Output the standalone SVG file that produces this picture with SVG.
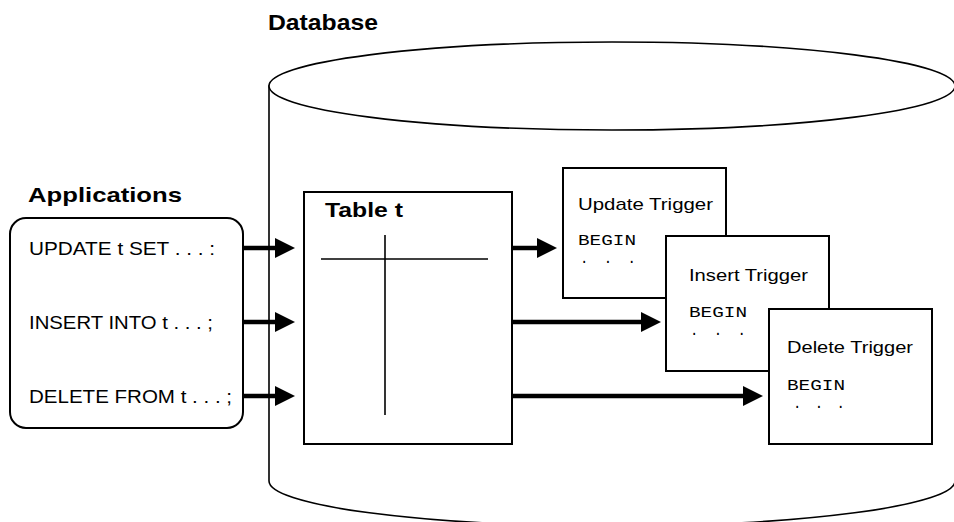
<svg xmlns="http://www.w3.org/2000/svg" width="954" height="522" viewBox="0 0 954 522">
<defs>
<marker id="ah" viewBox="0 0 20 20" markerUnits="userSpaceOnUse" markerWidth="20" markerHeight="20" refX="0" refY="10" orient="auto">
<path d="M0,0 L20,10 L0,20 Z" fill="#000"/>
</marker>
</defs>
<style>
.shape{fill:#fff;stroke:#000;stroke-width:2}
.cyl{fill:#fff;stroke:#000;stroke-width:1.6}
.thin{stroke:#000;stroke-width:1.6;fill:none}
.title{font-family:"Liberation Sans",Arial,sans-serif;font-weight:bold;fill:#000}
.lbl{font-family:"Liberation Sans",Arial,sans-serif;font-size:17px;fill:#000}
.app{font-size:18px}
.code{font-family:"Liberation Mono","Courier New",monospace;font-size:14px;fill:#000}
.conn{stroke:#000;stroke-width:4.5;fill:none;marker-end:url(#ah)}
</style>
<rect width="954" height="522" fill="#fff"/>

<g id="database">
<path class="cyl" d="M269,86 L269,481 A343,45 0 0 0 955,481 L955,86 Z"/>
<ellipse class="cyl" cx="612" cy="86" rx="343" ry="44"/>
<text class="title" x="268" y="30" font-size="22" textLength="110" lengthAdjust="spacingAndGlyphs">Database</text>
</g>

<g id="applications">
<text class="title" x="28" y="202" font-size="21" textLength="154" lengthAdjust="spacingAndGlyphs">Applications</text>
<rect class="shape" x="10" y="218" width="233" height="210" rx="16" ry="16"/>
<text class="lbl app" x="29" y="255" textLength="186" lengthAdjust="spacingAndGlyphs">UPDATE t SET . . . :</text>
<text class="lbl app" x="29" y="329" textLength="184" lengthAdjust="spacingAndGlyphs">INSERT INTO t . . . ;</text>
<text class="lbl app" x="29" y="403" textLength="203" lengthAdjust="spacingAndGlyphs">DELETE FROM t . . . ;</text>
</g>

<g id="table-t">
<rect class="shape" x="304" y="192" width="208" height="252"/>
<text class="title" x="325" y="217" font-size="20" textLength="78" lengthAdjust="spacingAndGlyphs">Table t</text>
<line class="thin" x1="321" y1="259" x2="488" y2="259"/>
<line class="thin" x1="385" y1="235" x2="385" y2="415"/>
</g>

<g id="update-trigger">
<rect class="shape" x="563" y="168" width="163" height="130"/>
<text class="lbl" x="578" y="210" textLength="135" lengthAdjust="spacingAndGlyphs">Update Trigger</text>
<text class="code" x="578" y="245" textLength="58" lengthAdjust="spacingAndGlyphs">BEGIN</text>
<text class="code" x="580" y="263" textLength="56" lengthAdjust="spacing">. . .</text>
</g>

<g id="insert-trigger">
<rect class="shape" x="666" y="236" width="163" height="135"/>
<text class="lbl" x="689" y="281" textLength="119" lengthAdjust="spacingAndGlyphs">Insert Trigger</text>
<text class="code" x="689" y="317" textLength="58" lengthAdjust="spacingAndGlyphs">BEGIN</text>
<text class="code" x="690" y="335" textLength="56" lengthAdjust="spacing">. . .</text>
</g>

<g id="delete-trigger">
<rect class="shape" x="769" y="309" width="163" height="135"/>
<text class="lbl" x="787" y="353" textLength="126" lengthAdjust="spacingAndGlyphs">Delete Trigger</text>
<text class="code" x="787" y="390" textLength="58" lengthAdjust="spacingAndGlyphs">BEGIN</text>
<text class="code" x="793" y="408" textLength="52" lengthAdjust="spacing">. . .</text>
</g>

<g id="connectors">
<line class="conn" x1="243" y1="248" x2="275" y2="248"/>
<line class="conn" x1="243" y1="322" x2="275" y2="322"/>
<line class="conn" x1="243" y1="396" x2="275" y2="396"/>
<line class="conn" x1="512" y1="248" x2="537" y2="248"/>
<line class="conn" x1="512" y1="322" x2="641" y2="322"/>
<line class="conn" x1="512" y1="396" x2="743" y2="396"/>
</g>
</svg>
